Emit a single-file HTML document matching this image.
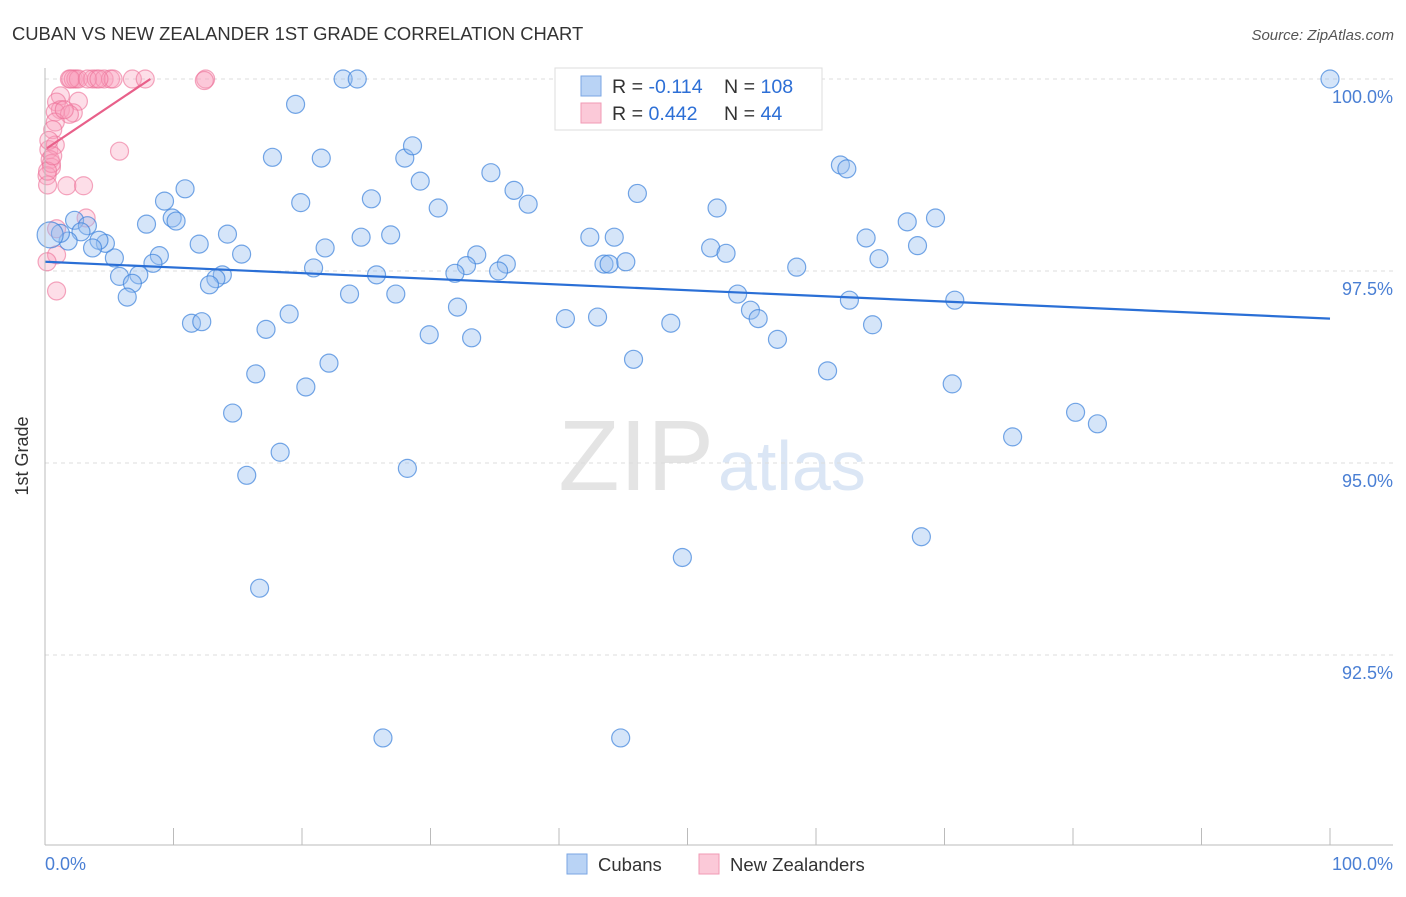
<!DOCTYPE html>
<html><head><meta charset="utf-8"><style>
body{margin:0;background:#fff;font-family:"Liberation Sans",sans-serif;}
svg text{font-family:"Liberation Sans",sans-serif;}
</style></head><body>
<svg id="c" width="1406" height="892" viewBox="0 0 1406 892">
<text x="12" y="40" font-size="18.4" fill="#333">CUBAN VS NEW ZEALANDER 1ST GRADE CORRELATION CHART</text>
<text x="1394" y="40" font-size="15" fill="#555" font-style="italic" text-anchor="end">Source: ZipAtlas.com</text>
<text x="714" y="490" font-size="100" fill="#e4e4e4" text-anchor="end" font-family="Liberation Serif">ZIP</text>
<text x="718" y="490" font-size="70" fill="#dbe6f5">atlas</text>
<g id="grid"></g><g id="pts"></g><g id="lines"></g>
<line x1="45" y1="68" x2="45" y2="845" stroke="#bbb"/>
<line x1="45" y1="845" x2="1393" y2="845" stroke="#bbb"/>
<text x="28" y="456" font-size="18" fill="#333" text-anchor="middle" transform="rotate(-90 28 456)">1st Grade</text>
<text x="45" y="870" font-size="18" fill="#4a7fd4">0.0%</text>
<text x="1393" y="870" font-size="18" fill="#4a7fd4" text-anchor="end">100.0%</text>
<g>
<rect x="555" y="68" width="267" height="62" fill="#fff" stroke="#ddd"/>
<rect x="581" y="76" width="20" height="20" fill="#b9d3f5" stroke="#7aa6e3"/>
<rect x="581" y="103" width="20" height="20" fill="#fbc9d8" stroke="#f09ab5"/>
<text x="612" y="93" font-size="19.6" fill="#333">R = <tspan fill="#2d6fd6">-0.114</tspan></text>
<text x="724" y="93" font-size="19.6" fill="#333">N = <tspan fill="#2d6fd6">108</tspan></text>
<text x="612" y="120" font-size="19.6" fill="#333">R = <tspan fill="#2d6fd6">0.442</tspan></text>
<text x="724" y="120" font-size="19.6" fill="#333">N = <tspan fill="#2d6fd6"> 44</tspan></text>
</g>
<g>
<rect x="567" y="854" width="20" height="20" fill="#b9d3f5" stroke="#7aa6e3"/>
<text x="598" y="871" font-size="18.5" fill="#333">Cubans</text>
<rect x="699" y="854" width="20" height="20" fill="#fbc9d8" stroke="#f09ab5"/>
<text x="730" y="871" font-size="18.5" fill="#333">New Zealanders</text>
</g>
</svg>
<script>
const yTicks=[100,97.5,95,92.5];
const yTickLabels=["100.0%","97.5%","95.0%","92.5%"];
const xTicks=[0,10,20,30,40,50,60,70,80,90,100];
const cubX=[100,23.2,24.3,19.5,17.7,21.5,28.0,28.6,29.2,34.7,36.5,37.6,46.1,61.9,62.4,52.3,69.3,67.1,63.9,67.9,64.9,58.5,51.8,53.0,42.4,44.3,43.5,43.9,45.2,30.6,25.4,19.9,10.9,9.3,9.9,10.2,7.9,14.2,12.0,15.3,21.8,24.6,26.9,33.6,32.8,35.9,31.9,35.3,25.8,20.9,13.8,13.3,12.8,8.9,8.4,7.3,5.8,6.8,6.4,5.4,4.7,4.2,3.7,2.3,3.3,2.8,1.8,1.2,0.4,23.7,27.3,32.1,19.0,17.2,11.4,12.2,29.9,33.2,40.5,43.0,48.7,53.9,54.9,55.5,57.0,62.6,70.8,64.4,45.8,60.9,70.6,22.1,16.4,20.3,14.6,80.2,81.9,75.3,18.3,28.2,15.7,68.2,49.6,16.7,26.3,44.8];
const cubY=[100,100,100,99.67,98.98,98.97,98.97,99.13,98.67,98.78,98.55,98.37,98.51,98.88,98.83,98.32,98.19,98.14,97.93,97.83,97.66,97.55,97.80,97.73,97.94,97.94,97.59,97.59,97.62,98.32,98.44,98.39,98.57,98.41,98.19,98.15,98.11,97.98,97.85,97.72,97.80,97.94,97.97,97.71,97.57,97.59,97.47,97.50,97.45,97.54,97.45,97.40,97.32,97.70,97.60,97.45,97.43,97.34,97.16,97.67,97.86,97.90,97.80,98.16,98.09,98.01,97.89,97.99,97.97,97.20,97.20,97.03,96.94,96.74,96.82,96.84,96.67,96.63,96.88,96.90,96.82,97.20,96.99,96.88,96.61,97.12,97.12,96.80,96.35,96.20,96.03,96.30,96.16,95.99,95.65,95.66,95.51,95.34,95.14,94.93,94.84,94.04,93.77,93.37,91.42,91.42];
const nzX=[1.9,2.2,2.4,2.6,3.7,4.0,4.6,5.1,5.3,6.8,7.8,12.5,12.4,1.2,0.9,2.6,1.2,0.8,2.2,1.9,0.8,0.6,0.3,0.8,0.4,0.5,0.16,0.2,1.7,3.0,5.8,3.2,0.9,0.9,0.16,0.9,2.0,3.3,0.5,4.2,1.5,0.3,0.2,0.6];
const nzY=[100,100,100,100,100,100,100,100,100,100,100,100,99.98,99.78,99.70,99.71,99.60,99.57,99.56,99.54,99.44,99.34,99.08,99.14,98.95,98.85,98.74,98.62,98.61,98.61,99.06,98.19,98.05,97.71,97.62,97.24,100,100,98.9,100,99.6,99.2,98.8,99.0];
const cubTrend=[97.62,96.88];
const nzTrend=[99.1,100];
const X=v=>45+v*12.85, Y=v=>79+(100-v)*76.8;
const NS='http://www.w3.org/2000/svg';
function mk(t,a,p){const e=document.createElementNS(NS,t);for(const k in a)e.setAttribute(k,a[k]);p.appendChild(e);return e;}
const g=document.getElementById('grid');
yTicks.forEach((t,i)=>{
 const l=mk('line',{x1:45,x2:1393,y1:Y(t),y2:Y(t),stroke:'#ddd','stroke-dasharray':'4,4'},g);
 
 
 const tx=mk('text',{x:1393,y:Y(t)+24,'font-size':18,fill:'#4a7fd4','text-anchor':'end'},g);
 tx.textContent=yTickLabels[i];
 
 
});
xTicks.forEach(t=>{
 const l=mk('line',{x1:X(t),x2:X(t),y1:828,y2:845,stroke:'#bbb'},g);
 
 
});
const p=document.getElementById('pts');
nzX.forEach((x,i)=>{
 const c=mk('circle',{cx:X(x),cy:Y(nzY[i]),r:9,fill:'rgba(248,160,190,0.35)',stroke:'rgba(236,110,150,0.6)','stroke-width':1.2},p);
 
 
});
cubX.forEach((x,i)=>{
 const c=mk('circle',{cx:X(x),cy:Y(cubY[i]),r:i==68?13:9,fill:'rgba(150,190,240,0.4)',stroke:'rgba(60,130,220,0.7)','stroke-width':1.2},p);
 
 
});
const L=document.getElementById('lines');
const a=mk('line',{x1:X(0),y1:Y(cubTrend[0]),x2:X(100),y2:Y(cubTrend[1]),stroke:'#2a6fd6','stroke-width':2.2},L);


const b=mk('line',{x1:X(0.16),y1:Y(nzTrend[0]),x2:X(8.2),y2:Y(nzTrend[1]),stroke:'#e8608a','stroke-width':2.2},L);


</script>
</body></html>
